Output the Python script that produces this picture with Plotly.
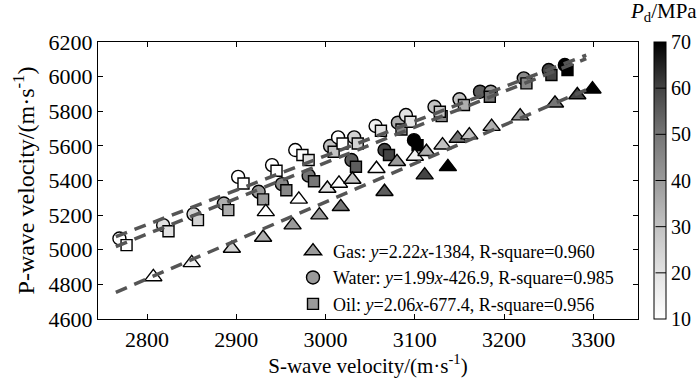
import plotly.graph_objects as go

# ---------------- data ----------------
water_vs = [2769, 2818, 2852, 2886, 2925, 2951, 2981, 3029, 3066, 3099,
            2902, 2940, 2966, 3005, 3014, 3032, 3056, 3081, 3090, 3122,
            3150, 3173, 3185, 3222, 3250, 3268]
water_vp = [5065, 5142, 5206, 5267, 5335, 5379, 5428, 5518, 5576, 5633,
            5421, 5489, 5576, 5599, 5649, 5649, 5715, 5734, 5778, 5826,
            5869, 5913, 5913, 5990, 6038, 6067]
water_pd = [10, 20, 25, 35, 40, 45, 50, 55, 60, 70,
            10, 10, 10, 30, 10, 25, 15, 35, 20, 30,
            30, 55, 40, 45, 60, 70]

oil_vs = [2777, 2824, 2857, 2891, 2930, 2956, 2987, 3034, 3071, 3103,
          2908, 2945, 2974, 2981, 3009, 3019, 3036, 3062, 3085, 3095,
          3130, 3128, 3155, 3184, 3225, 3253, 3271]
oil_vp = [5027, 5107, 5171, 5229, 5291, 5344, 5396, 5479, 5547, 5604,
          5383, 5456, 5547, 5518, 5566, 5614, 5614, 5687, 5695, 5739,
          5772, 5797, 5836, 5884, 5961, 6009, 6038]
oil_pd = [10, 20, 25, 35, 40, 45, 50, 55, 60, 70,
          10, 10, 10, 20, 30, 10, 25, 20, 45, 20,
          45, 30, 35, 50, 45, 60, 70]

gas_vs = [2807, 2850, 2895, 2933, 2930, 2963, 2970, 2993, 3002, 3015,
          3030, 3017, 3057, 3066, 3080, 3100, 3113, 3111, 3131, 3137,
          3148, 3161, 3186, 3218, 3257, 3282, 3299]
gas_vp = [4843, 4924, 5007, 5219, 5071, 5142, 5291, 5200, 5354, 5383,
          5406, 5248, 5468, 5335, 5508, 5539, 5566, 5431, 5604, 5479,
          5643, 5662, 5711, 5772, 5846, 5894, 5927]
gas_pd = [10, 15, 25, 10, 35, 40, 10, 40, 20, 10,
          30, 50, 10, 55, 40, 15, 35, 60, 30, 70,
          50, 30, 35, 40, 50, 60, 70]

# linear fits shown in the legend
fit_names = ["Gas", "Water", "Oil"]
fit_slope = [2.22, 1.99, 2.06]
fit_icept = [-1384, -426.9, -677.4]
fit_r2 = ["0.960", "0.985", "0.956"]
fit_xrange = [2765, 3292]

x_ticks = [2800, 2900, 3000, 3100, 3200, 3300]
y_ticks = [4600, 4800, 5000, 5200, 5400, 5600, 5800, 6000, 6200]
cb_ticks = [10, 20, 30, 40, 50, 60, 70]
CB_MIN, CB_MAX = 10, 70

# ---------------- style ----------------
FONT = "Liberation Serif"
gray_scale = [[0.0, "#ffffff"], [1/6, "#e2e2e2"], [2/6, "#c2c2c2"],
              [3/6, "#9a9a9a"], [4/6, "#767676"], [5/6, "#444444"],
              [1.0, "#000000"]]
legend_gray = "#9a9a9a"

W, H = 700, 378
ML, MR, MT, MB = 98, 0, 42, 59
PLOT_RIGHT = 638                      # right frame of the axes, px
paper_w = W - ML - MR
dom_right = (PLOT_RIGHT - ML) / paper_w
CB_LEFT, CB_THICK = 654, 12

def px_x(px):
    return (px - ML) / paper_w

fig = go.Figure()

def add_points(xs, ys, pd, symbol, size, show_cb=False):
    fig.add_trace(go.Scatter(
        x=xs, y=ys, mode="markers", showlegend=False, hoverinfo="skip",
        marker=dict(symbol=symbol, size=size, color=pd, colorscale=gray_scale,
                    cmin=CB_MIN, cmax=CB_MAX, line=dict(color="black", width=1.4),
                    showscale=show_cb,
                    colorbar=dict(
                        x=px_x(CB_LEFT), xanchor="left", xref="paper",
                        y=0.5, yanchor="middle", len=1.0, lenmode="fraction",
                        thickness=CB_THICK, thicknessmode="pixels",
                        outlinecolor="black", outlinewidth=1,
                        tickvals=cb_ticks, ticks="",
                        tickfont=dict(family=FONT, size=20, color="black"),
                        xpad=0, ypad=0,
                    ))))

add_points(water_vs, water_vp, water_pd, "circle", 13, show_cb=True)
add_points(oil_vs, oil_vp, oil_pd, "square", 11)
add_points(gas_vs, gas_vp, gas_pd, "triangle-up", 15)

# fit lines
for s, b in zip(fit_slope, fit_icept):
    fig.add_trace(go.Scatter(
        x=fit_xrange, y=[s * v + b for v in fit_xrange], mode="lines",
        showlegend=False, hoverinfo="skip",
        line=dict(color="#555555", width=3.5, dash="12px,8px")))

# legend entries
leg_symbols = ["triangle-up", "circle", "square"]
leg_sizes = [15, 13, 11]
for name, s, b, r2, sym, sz in zip(fit_names, fit_slope, fit_icept, fit_r2,
                                   leg_symbols, leg_sizes):
    sign = "-" if b < 0 else "+"
    bs = ("%g" % abs(b))
    label = f"{name}: <i>y</i>={s:.2f}<i>x</i>{sign}{bs}, R-square={r2}"
    fig.add_trace(go.Scatter(
        x=[None], y=[None], mode="markers", name=label,
        marker=dict(symbol=sym, size=sz, color=legend_gray,
                    line=dict(color="black", width=1.4))))

axis_common = dict(showline=True, linecolor="black", linewidth=1.2,
                   mirror="ticks", ticks="inside", ticklen=5,
                   tickcolor="black", tickwidth=1.2, showgrid=False,
                   zeroline=False,
                   tickfont=dict(family=FONT, size=22, color="black"))

# separator strokes across the colour bar at each tick level (annotation arrows
# so that they sit above the colour bar)
cb_seps = [dict(text=" ", xref="paper", yref="paper",
                x=px_x(CB_LEFT + CB_THICK),
                y=(v - CB_MIN) / (CB_MAX - CB_MIN),
                showarrow=True, arrowhead=0, arrowwidth=1, arrowcolor="black",
                axref="pixel", ayref="pixel", ax=-CB_THICK, ay=0,
                standoff=0, startstandoff=0,
                font=dict(size=1))
           for v in cb_ticks[1:-1]]

fig.update_layout(
    width=W, height=H, autosize=False,
    margin=dict(l=ML, r=MR, t=MT, b=MB),
    paper_bgcolor="white", plot_bgcolor="white",
    font=dict(family=FONT, color="black"),
    xaxis=dict(range=[2745, 3350], tickvals=x_ticks, domain=[0, dom_right],
               title=dict(text="S-wave velocity/(m·s<sup>-1</sup>)",
                          font=dict(family=FONT, size=21), standoff=0),
               **axis_common),
    yaxis=dict(range=[4600, 6200], tickvals=y_ticks,
               title=dict(text="P-wave velocity/(m·s<sup>-1</sup>)",
                          font=dict(family=FONT, size=24), standoff=7),
               **axis_common),
    legend=dict(x=px_x(293), y=0.311, xanchor="left", yanchor="top",
                bgcolor="rgba(0,0,0,0)", borderwidth=0,
                font=dict(family=FONT, size=18, color="black"),
                tracegroupgap=0),
    annotations=[dict(text="<i>P</i><sub>d</sub>/MPa", xref="paper", yref="paper",
                      x=px_x(699), y=1.0 + 30/277, xanchor="right", yanchor="middle",
                      showarrow=False,
                      font=dict(family=FONT, size=21, color="black"))] + cb_seps,
)

fig.write_html(
    "out.html",
    config={"responsive": False, "displayModeBar": False},
    post_script=("document.body.style.margin='0px';"
                 "document.body.style.overflow='hidden';"
                 "document.documentElement.style.overflow='hidden';"),
)
